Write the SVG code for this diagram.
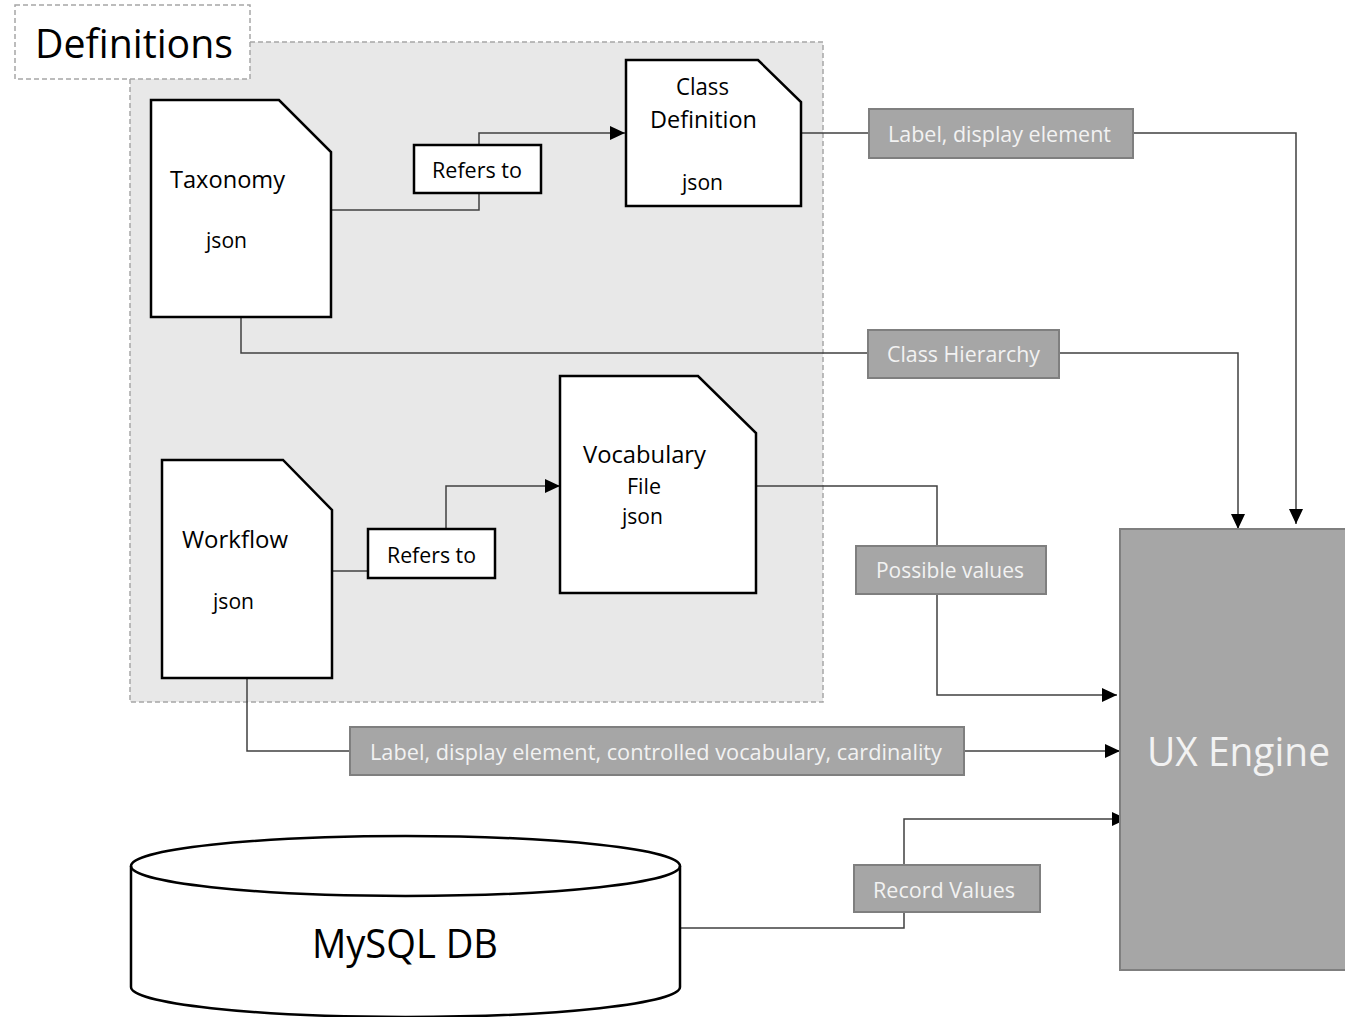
<svg xmlns="http://www.w3.org/2000/svg" width="1345" height="1017" viewBox="0 0 1345 1017">
<defs>
<style>
.doc{fill:#ffffff;stroke:#000000;stroke-width:2.5}
.lbl{fill:#a6a6a6;stroke:#7f7f7f;stroke-width:2}
.ref{fill:#ffffff;stroke:#000000;stroke-width:2.5}
.con{fill:none;stroke:#404040;stroke-width:1.5}
.t{font-family:"Open Sans","Noto Sans","Liberation Sans",sans-serif;fill:#000000}
.w{font-family:"Open Sans","Noto Sans","Liberation Sans",sans-serif;fill:#f2f2f2}
</style>
<marker id="arrB" viewBox="0 0 15 14" refX="15" refY="7" markerWidth="15" markerHeight="14" markerUnits="userSpaceOnUse" orient="auto">
<path d="M0,0 L15,7 L0,14 Z" fill="#000000"/>
</marker>
</defs>
<rect width="1345" height="1017" fill="#ffffff"/>

<g id="definitions-container">
<rect x="130" y="42" width="693" height="660" fill="#e8e8e8" stroke="#a6a6a6" stroke-width="1.5" stroke-dasharray="5,3"/>
</g>
<g id="definitions-label">
<rect x="15" y="5" width="235" height="74" fill="#ffffff" stroke="#a6a6a6" stroke-width="1.5" stroke-dasharray="5,3"/>
<text class="t" x="35" y="58" font-size="40" textLength="198" lengthAdjust="spacingAndGlyphs">Definitions</text>
</g>

<g id="connectors">
<polyline class="con" points="331,210 479,210 479,193"/>
<polyline class="con" points="479,145 479,133 625,133" marker-end="url(#arrB)"/>
<polyline class="con" points="801,133 869,133"/>
<polyline class="con" points="1133,133 1296,133 1296,524" marker-end="url(#arrB)"/>
<polyline class="con" points="241,317 241,353 868,353"/>
<polyline class="con" points="1059,353 1238,353 1238,529" marker-end="url(#arrB)"/>
<polyline class="con" points="332,571 368,571"/>
<polyline class="con" points="446,529 446,486 560,486" marker-end="url(#arrB)"/>
<polyline class="con" points="756,486 937,486 937,546"/>
<polyline class="con" points="937,594 937,695 1117,695" marker-end="url(#arrB)"/>
<polyline class="con" points="247,678 247,751 350,751"/>
<polyline class="con" points="964,751 1120,751" marker-end="url(#arrB)"/>
<polyline class="con" points="680,928 904,928 904,912"/>
<polyline class="con" points="904,865 904,819 1127,819" marker-end="url(#arrB)"/>
</g>

<g id="taxonomy">
<path class="doc" d="M151,100 L279,100 L331,152 L331,317 L151,317 Z"/>
<text class="t" x="170" y="188" font-size="23" textLength="115" lengthAdjust="spacingAndGlyphs">Taxonomy</text>
<text class="t" x="206" y="248" font-size="22" textLength="41" lengthAdjust="spacingAndGlyphs">json</text>
</g>

<g id="refers-to-1">
<rect class="ref" x="414" y="145" width="127" height="48"/>
<text class="t" x="432" y="178" font-size="21" textLength="90" lengthAdjust="spacingAndGlyphs">Refers to</text>
</g>

<g id="class-definition">
<path class="doc" d="M626,60 L758,60 L801,102 L801,206 L626,206 Z"/>
<text class="t" x="676" y="95" font-size="23" textLength="53" lengthAdjust="spacingAndGlyphs">Class</text>
<text class="t" x="650" y="128" font-size="23" textLength="107" lengthAdjust="spacingAndGlyphs">Definition</text>
<text class="t" x="682" y="190" font-size="22" textLength="41" lengthAdjust="spacingAndGlyphs">json</text>
</g>

<g id="label-display-element">
<rect class="lbl" x="869" y="109" width="264" height="49"/>
<text class="w" x="888" y="142" font-size="21" textLength="223" lengthAdjust="spacingAndGlyphs">Label, display element</text>
</g>

<g id="class-hierarchy">
<rect class="lbl" x="868" y="330" width="191" height="48"/>
<text class="w" x="887" y="362" font-size="21" textLength="153" lengthAdjust="spacingAndGlyphs">Class Hierarchy</text>
</g>

<g id="vocabulary-file">
<path class="doc" d="M560,376 L698,376 L756,433 L756,593 L560,593 Z"/>
<text class="t" x="583" y="463" font-size="24" textLength="123" lengthAdjust="spacingAndGlyphs">Vocabulary</text>
<text class="t" x="627" y="494" font-size="21" textLength="34" lengthAdjust="spacingAndGlyphs">File</text>
<text class="t" x="622" y="524" font-size="21" textLength="41" lengthAdjust="spacingAndGlyphs">json</text>
</g>

<g id="workflow">
<path class="doc" d="M162,460 L283,460 L332,510 L332,678 L162,678 Z"/>
<text class="t" x="182" y="548" font-size="23" textLength="106" lengthAdjust="spacingAndGlyphs">Workflow</text>
<text class="t" x="213" y="609" font-size="22" textLength="41" lengthAdjust="spacingAndGlyphs">json</text>
</g>

<g id="refers-to-2">
<rect class="ref" x="368" y="529" width="127" height="49"/>
<text class="t" x="387" y="563" font-size="21" textLength="89" lengthAdjust="spacingAndGlyphs">Refers to</text>
</g>

<g id="possible-values">
<rect class="lbl" x="856" y="546" width="190" height="48"/>
<text class="w" x="876" y="578" font-size="21" textLength="148" lengthAdjust="spacingAndGlyphs">Possible values</text>
</g>

<g id="workflow-label">
<rect class="lbl" x="350" y="727" width="614" height="48"/>
<text class="w" x="370" y="760" font-size="21" textLength="572" lengthAdjust="spacingAndGlyphs">Label, display element, controlled vocabulary, cardinality</text>
</g>

<g id="record-values">
<rect class="lbl" x="854" y="865" width="186" height="47"/>
<text class="w" x="873" y="898" font-size="21" textLength="142" lengthAdjust="spacingAndGlyphs">Record Values</text>
</g>

<g id="ux-engine">
<rect class="lbl" x="1120" y="529" width="230" height="441"/>
<text class="w" x="1147" y="766" font-size="40" textLength="183" lengthAdjust="spacingAndGlyphs">UX Engine</text>
</g>

<g id="mysql-db">
<path d="M131,866 A274.5,30 0 0 1 680,866 L680,987 A274.5,30 0 0 1 131,987 Z" fill="#ffffff" stroke="#000000" stroke-width="2.5"/>
<path d="M131,866 A274.5,30 0 0 0 680,866" fill="none" stroke="#000000" stroke-width="2.5"/>
<text class="t" x="312" y="958" font-size="40" textLength="186" lengthAdjust="spacingAndGlyphs">MySQL DB</text>
</g>
</svg>
